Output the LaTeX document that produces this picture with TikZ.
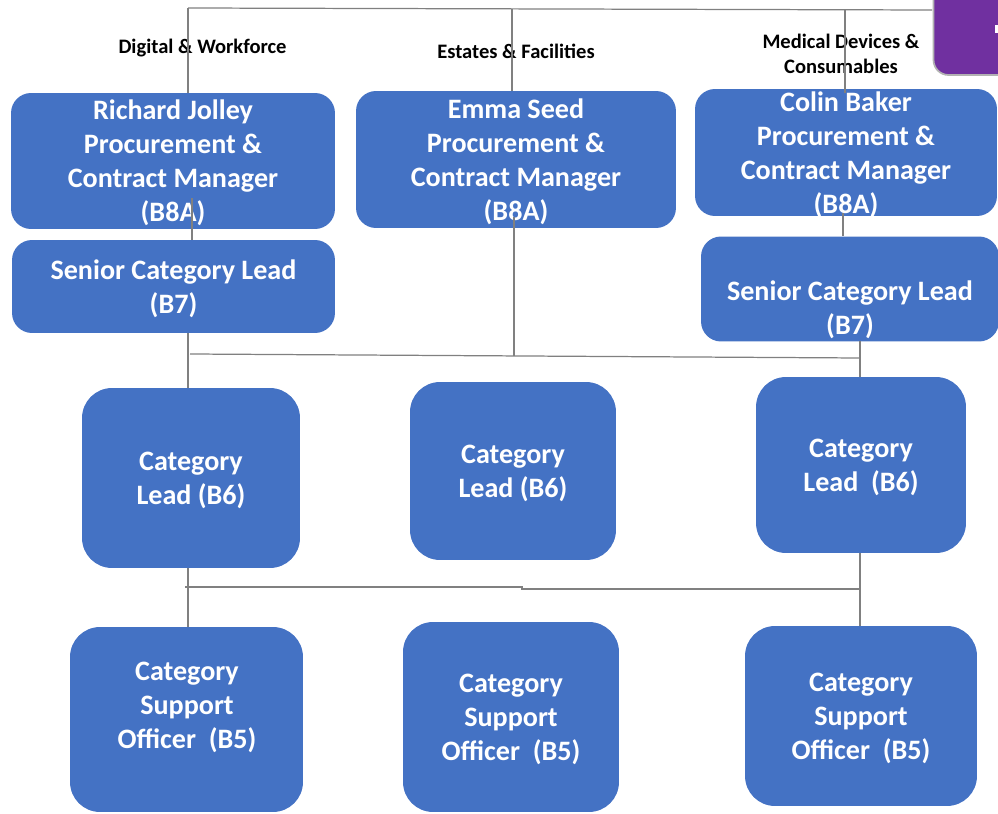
\documentclass[tikz,border=0pt]{standalone}
\usepackage{fontspec}
\setmainfont{Carlito}
\definecolor{postblue}{HTML}{4472C4}
\definecolor{linkgray}{HTML}{808080}
\definecolor{keypurple}{HTML}{7030A0}
\tikzset{
  post/.style={fill=postblue, rounded corners=0.4cm, inner sep=0pt, text depth=0pt,
    text=white, align=center, font=\bfseries\fontsize{16}{19.3}\selectfont},
  roundpost/.style={post, rounded corners=0.6cm},
  posttext/.style={text=white, align=center, inner sep=0pt, text depth=0pt,
    font=\bfseries\fontsize{16}{19.3}\selectfont},
  head/.style={align=center, inner sep=0pt,
    font=\bfseries\fontsize{11.7}{14.6}\selectfont},
  link/.style={draw=linkgray, line width=0.7pt},
}

\begin{document}
\begin{tikzpicture}[x=0.02cm, y=-0.02cm]
  \useasboundingbox (0,0) rectangle (998,814);

  % key box, cut by the page edge
  \node[fill=keypurple, draw=gray!60, line width=1pt, rounded corners=0.3cm,
    minimum width=1.9cm, minimum height=2cm] (key) at (981,25) {};
  \fill[white] (995,25) rectangle (999,33);

  % managers
  \node[post, minimum width=6.48cm, minimum height=2.72cm] (jolley) at (173,161)
    {Richard Jolley\\Procurement \&\\Contract Manager\\(B8A)};
  \node[post, minimum width=6.4cm, minimum height=2.74cm] (seed) at (516,159.5)
    {Emma Seed\\Procurement \&\\Contract Manager\\(B8A)};
  \node[post, minimum width=6.04cm, minimum height=2.54cm] (baker) at (846,152.5)
    {Colin Baker\\Procurement \&\\Contract Manager\\(B8A)};

  % senior category leads
  \node[post, minimum width=6.46cm, minimum height=1.86cm] (sclDW) at (173.5,286.5)
    {Senior Category Lead\\(B7)};
  \node[post, minimum width=5.96cm, minimum height=2.1cm] (sclMD) at (850,289) {};
  \node[posttext] (sclMDtxt) at (850,307.5) {Senior Category Lead\\(B7)};

  % category leads
  \node[roundpost, minimum width=4.36cm, minimum height=3.6cm] (clDW) at (191,478)
    {Category\\Lead (B6)};
  \node[roundpost, minimum width=4.12cm, minimum height=3.56cm] (clEF) at (513,471)
    {Category\\Lead (B6)};
  \node[roundpost, minimum width=4.2cm, minimum height=3.52cm] (clMD) at (861,465)
    {Category\\Lead\ \ (B6)};

  % support officers
  \node[roundpost, minimum width=4.66cm, minimum height=3.7cm] (csoDW) at (186.5,719.5) {};
  \node[posttext] (csoDWtxt) at (187,705) {Category\\Support\\Officer\ \ (B5)};
  \node[roundpost, minimum width=4.32cm, minimum height=3.8cm] (csoEF) at (511,717)
    {Category\\Support\\Officer\ \ (B5)};
  \node[roundpost, minimum width=4.64cm, minimum height=3.6cm] (csoMD) at (861,716)
    {Category\\Support\\Officer\ \ (B5)};

  % teams
  \node[head] (hdDW) at (202.5,48.5) {Digital \& Workforce};
  \node[head] (hdEF) at (516,51) {Estates \& Facilities};
  \node[head] (hdMD) at (841,54) {Medical Devices \&\\Consumables};

  % lines
  \coordinate (topL) at (188,8);
  \coordinate (topR) at (932,10);
  \draw[link] (topL) -- (topR);
  \draw[link] (topL) -- (topL |- jolley.north);
  \draw[link] (512,9) -- (512,91);
  \draw[link] (845,10) -- (845,93);

  \coordinate (jolleyIn) at (192,198);
  \draw[link] (jolleyIn) -- (jolleyIn |- sclDW.north);
  \coordinate (bakerIn) at (843,213);
  \draw[link] (bakerIn) -- (bakerIn |- sclMD.north);
  \coordinate (seedIn) at (514,217);

  \coordinate (midL) at (190,354);
  \coordinate (midR) at (860,358);
  \draw[link] (midL) -- (midR);
  \draw[link] (seedIn) -- (514,356);
  \draw[link] (188,333) -- (188,388);
  \draw[link] (860,341) -- (860,377);

  \coordinate (lowL) at (185,587);
  \coordinate (lowR) at (860,589);
  \draw[link] (lowL) -- (522,587) -- (522,589) -- (lowR);
  \draw[link] (188,568) -- (188,627);
  \draw[link] (860,553) -- (860,626);
\end{tikzpicture}
\end{document}
